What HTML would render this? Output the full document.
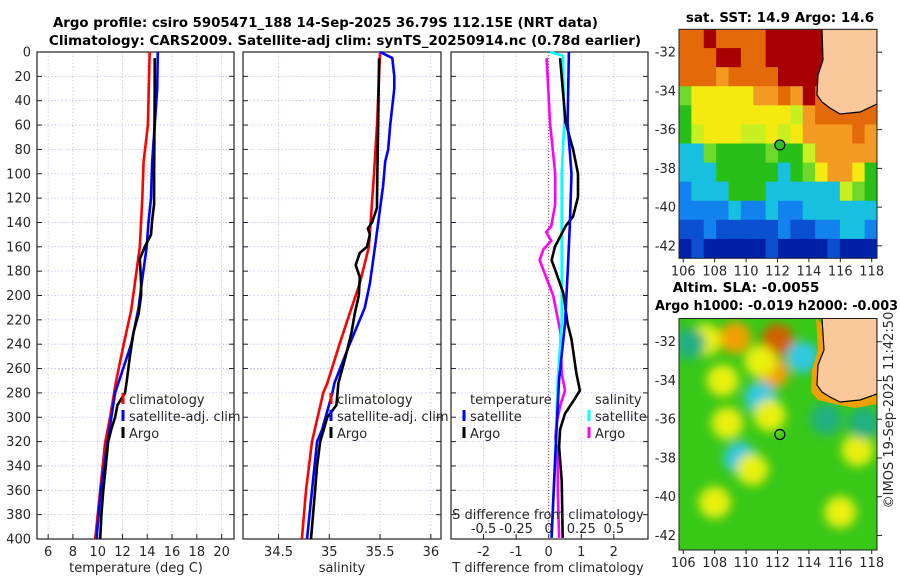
<!DOCTYPE html>
<html><head><meta charset="utf-8"><style>
body{margin:0;background:#fff;}
svg{display:block;font-family:"DejaVu Sans","Liberation Sans",sans-serif;}
.tk{font-size:13px;fill:#262626;}
.tt{font-size:13.5px;font-weight:bold;fill:#000;}
</style></head><body>
<svg id="c" width="900" height="580" viewBox="0 0 900 580">
<defs>
<filter id="bl" x="-20%" y="-20%" width="140%" height="140%"><feGaussianBlur stdDeviation="5"/></filter>
<clipPath id="m1c"><rect x="679" y="29" width="198" height="229"/></clipPath>
<clipPath id="m2c"><rect x="679" y="318" width="198" height="232"/></clipPath>
</defs>
<text class="tt" x="53" y="27" textLength="545" lengthAdjust="spacingAndGlyphs">Argo profile: csiro 5905471_188 14-Sep-2025 36.79S 112.15E (NRT data)</text>
<text class="tt" x="345" y="45" text-anchor="middle">Climatology: CARS2009. Satellite-adj clim: synTS_20250914.nc (0.78d earlier)</text>
<g id="panels"></g>
<g id="maps"></g>
<text class="tk" transform="translate(893,410) rotate(-90)" text-anchor="middle">©IMOS 19-Sep-2025 11:42:50</text>
</svg>
<script>
// ---- data ----
const depthTicks=[0,20,40,60,80,100,120,140,160,180,200,220,240,260,280,300,320,340,360,380,400];
const tempTicks=[6,8,10,12,14,16,18,20];
const salTicks=[34.5,35,35.5,36];
const salTickLabels=["34.5","35","35.5","36"];
const tdiffTicks=[-2,-1,0,1,2];
const sdiffTicks=[-0.5,-0.25,0,0.25,0.5];
const sdiffTickLabels=["-0.5","-0.25","0","0.25","0.5"];

const tClimDepth=[0,60,90,120,160,190,212,240,272,300,321,360,400];
const tClimVal=[14.2,14.05,13.7,13.6,13.4,13.0,12.7,12.1,11.45,11.0,10.6,10.2,9.8];
const tSatDepth=[0,30,90,120,140,160,190,210,240,280,320,360,400];
const tSatVal=[14.85,14.8,14.4,14.3,14.1,13.95,13.55,13.3,12.7,11.4,10.8,10.25,9.9];
const tArgoDepth=[5,30,60,100,125,138,150,160,170,180,190,200,215,230,250,270,280,290,300,310,320,340,360,380,400];
const tArgoVal=[14.6,14.6,14.58,14.55,14.55,14.4,14.3,13.8,13.4,13.45,13.5,13.5,13.3,12.9,12.6,12.35,12.2,11.6,11.4,11.1,10.85,10.65,10.45,10.3,10.2];

const sClimDepth=[0,60,100,160,190,210,240,272,280,320,360,400];
const sClimVal=[35.5,35.47,35.44,35.39,35.3,35.22,35.1,34.98,34.94,34.83,34.77,34.73];
const sSatDepth=[0,5,20,30,60,80,90,110,160,190,210,240,272,280,310,320,360,400];
const sSatVal=[35.5,35.62,35.64,35.64,35.6,35.58,35.55,35.53,35.45,35.4,35.35,35.2,35.05,35.03,34.93,34.88,34.83,34.78];
const sArgoDepth=[5,120,128,140,145,150,160,165,175,185,200,215,230,250,272,290,300,320,340,360,400];
const sArgoVal=[35.49,35.47,35.47,35.42,35.38,35.4,35.37,35.3,35.26,35.3,35.29,35.25,35.22,35.16,35.09,35.07,34.98,34.91,34.88,34.86,34.82];

const dtSatDepth=[0,58,100,141,182,223,269,278,338,399];
const dtSatVal=[0.62,0.58,0.7,0.65,0.58,0.5,0.32,0.3,0.19,0.09];
const dtArgoDepth=[5,58,80,100,119,135,143,160,171,182,198,223,236,264,278,287,297,310,324,352,399];
const dtArgoVal=[0.35,0.52,0.75,0.9,0.9,0.75,0.52,0.19,0.09,0.24,0.45,0.58,0.7,0.85,0.96,0.75,0.5,0.35,0.32,0.4,0.43];
const dsSatDepth=[0,3,58,100,141,182,223,269,300,338,399];
const dsSatVal=[0.01,0.11,0.12,0.1,0.1,0.1,0.1,0.07,0.06,0.05,0.02];
const dsArgoDepth=[5,58,100,125,143,148,155,162,171,182,200,230,264,278,290,305,317,330,360,399];
const dsArgoVal=[-0.016,0.01,0.05,0.05,0.02,-0.02,0.02,-0.04,-0.07,-0.03,0.035,0.09,0.1,0.125,0.09,0.06,0.05,0.07,0.07,0.08];

const sstRows=[
"OOROOOORRRRRLLLL",
"OOORROORRRRRRLLL",
"OOOoOOOORRRROLLL",
"gYYYYYooOoROOLLL",
"GYYYYYYYYyoOOOOO",
"GyYYYyyYyYooooOo",
"CCgGGGGgGGyooooo",
"CCCGGGGGCGgYooYG",
"BCCCGGGCCCCCCygG",
"BBBBCBBCBBCCCCCC",
"bbBbbbbbBbbBBCCB",
"DbDDDDDbDDDDbDDD"];
const slaBlobLon=[109.3,107.4,112.0,111.7,110.9,110.9,109.6,110.4,108.8,117.1,106.4,113.6,115.1,117.5,108.0,116.0,108.5,111.5];
const slaBlobLat=[-31.8,-31.9,-31.9,-33.6,-33.0,-34.9,-38.0,-38.6,-36.2,-37.6,-32.1,-32.8,-36.0,-36.2,-40.3,-40.8,-34.0,-35.8];
const slaBlobKind=["O","Y","R","O","Y","C","C","Y","Y","Y","T","C","T","T","Y","Y","Y","Y"];

// ---- helpers ----
const NS="http://www.w3.org/2000/svg";
function mk(tag,attrs,parent){const e=document.createElementNS(NS,tag);for(const k in attrs)e.setAttribute(k,attrs[k]);parent.appendChild(e);return e;}
const P=document.getElementById('panels');
const yTop=52,yBot=539;
function yD(d){return yTop+(yBot-yTop)*d/400;}

function panel(x0,x1,xmin,xmax,name){
  const xs=v=>x0+(x1-x0)*(v-xmin)/(xmax-xmin);
  const g=mk('g',{},P);
  
  
  return {g,xs};
}
function grid(p,ticks,x0,x1,labels,labelY){
  for(const d of depthTicks){const y=yD(d);
    const l=mk('line',{x1:x0,x2:x1,y1:y,y2:y,stroke:'#b8bff0','stroke-width':0.8,'stroke-dasharray':'1.5,2'},p.g);
    
    const t=mk('line',{x1:x0,x2:x0+5,y1:y,y2:y,stroke:'#222'},p.g);
    
    const t2=mk('line',{x1:x1-5,x2:x1,y1:y,y2:y,stroke:'#222'},p.g);
    
  }
  ticks.forEach((v,i)=>{const x=p.xs(v);
    const l=mk('line',{x1:x,x2:x,y1:yTop,y2:yBot,stroke:'#c8c0e8','stroke-width':0.8,'stroke-dasharray':'1.5,2'},p.g);
    
    const t=mk('line',{x1:x,x2:x,y1:yBot,y2:yBot-5,stroke:'#222'},p.g);
    
    if(labels){const tx=mk('text',{x:x,y:labelY,'text-anchor':'middle',class:'tk'},p.g);tx.textContent=labels[i];
      }
  });
  const b=mk('rect',{x:x0,y:yTop,width:x1-x0,height:yBot-yTop,fill:'none',stroke:'#222','stroke-width':1.2},p.g);
  
}
function series(p,xsF,depths,vals,color,name){
  const pts=depths.map((d,i)=>xsF(vals[i]).toFixed(1)+','+yD(d).toFixed(1)).join(' ');
  const l=mk('polyline',{points:pts,fill:'none',stroke:color,'stroke-width':2.6,'stroke-linejoin':'round'},p.g);
  
}
function legend(g,x,y,color,label,name){
  const r=mk('rect',{x:x-1.5,y:y-11,width:3,height:11,fill:color},g);
  
  const t=mk('text',{x:x+6,y:y,class:'tk'},g);t.textContent=label;
  
}
function text(g,x,y,s,name,anchor){const t=mk('text',{x:x,y:y,class:'tk','text-anchor':anchor||'middle'},g);t.textContent=s;
  return t;}

// y tick labels
const yl=mk('g',{},P);


for(const d of depthTicks){const t=mk('text',{x:31,y:yD(d)+4.5,'text-anchor':'end',class:'tk'},yl);t.textContent=d;
  }

// panel 1 temperature
const p1=panel(37,234,5.1,21.0,'temperature-panel');
grid(p1,tempTicks,37,234,tempTicks.map(String),556);
series(p1,p1.xs,tClimDepth,tClimVal,'#ff0000','temp-climatology-line');
series(p1,p1.xs,tSatDepth,tSatVal,'#0000ff','temp-satellite-line');
series(p1,p1.xs,tArgoDepth,tArgoVal,'#000000','temp-argo-line');
text(p1.g,136,572,'temperature (deg C)','x-axis-title-temperature');
legend(p1.g,123,404,'#ff0000','climatology','legend-climatology');
legend(p1.g,123,421,'#0000ff','satellite-adj. clim','legend-satellite-adj');
legend(p1.g,123,438,'#000000','Argo','legend-argo');

// panel 2 salinity
const p2=panel(243,441,34.15,36.1,'salinity-panel');
grid(p2,salTicks,243,441,salTickLabels,556);
series(p2,p2.xs,sClimDepth,sClimVal,'#ff0000','sal-climatology-line');
series(p2,p2.xs,sSatDepth,sSatVal,'#0000ff','sal-satellite-line');
series(p2,p2.xs,sArgoDepth,sArgoVal,'#000000','sal-argo-line');
text(p2.g,342,572,'salinity','x-axis-title-salinity');
legend(p2.g,331,404,'#ff0000','climatology','legend-climatology-2');
legend(p2.g,331,421,'#0000ff','satellite-adj. clim','legend-satellite-adj-2');
legend(p2.g,331,438,'#000000','Argo','legend-argo-2');

// panel 3 differences
const p3=panel(451,648,-3.0,3.05,'difference-panel');
grid(p3,tdiffTicks,451,648,tdiffTicks.map(String),556);
const zl=mk('line',{x1:p3.xs(0),x2:p3.xs(0),y1:yTop,y2:yBot,stroke:'#806040','stroke-width':1,'stroke-dasharray':'1,2'},p3.g);

const sx=v=>p3.xs(v*4);
series(p3,sx,dsArgoDepth,dsArgoVal,'#ff00ff','sdiff-argo-line');
series(p3,sx,dsSatDepth,dsSatVal,'#00ffff','sdiff-satellite-line');
series(p3,p3.xs,dtArgoDepth,dtArgoVal,'#000000','tdiff-argo-line');
series(p3,p3.xs,dtSatDepth,dtSatVal,'#0000ff','tdiff-satellite-line');
sdiffTicks.forEach((v,i)=>{text(p3.g,sx(v),533,sdiffTickLabels[i],'s-diff-tick-label');});
text(p3.g,548,519,'S difference from climatology','s-diff-axis-title');
text(p3.g,548,572,'T difference from climatology','t-diff-axis-title');
text(p3.g,470,404,'temperature','legend-title-temperature','start');
legend(p3.g,464,421,'#0000ff','satellite','legend-t-satellite');
legend(p3.g,464,438,'#000000','Argo','legend-t-argo');
text(p3.g,595,404,'salinity','legend-title-salinity','start');
legend(p3.g,589,421,'#00ffff','satellite','legend-s-satellite');
legend(p3.g,589,438,'#ff00ff','Argo','legend-s-argo');

// ---- maps ----
const M=document.getElementById('maps');
const lonX=lon=>683.3+(lon-106)*15.7;
const cmap={R:'#a80000',O:'#e46a08',o:'#f29a22',Y:'#f4ea10',y:'#c8f020',G:'#28c018',g:'#70d828',C:'#18c0e0',B:'#1282ee',b:'#0a50d0',D:'#0020a8',L:'#f9c99c'};
function mapFrame(g,y0,h,latTop,name){
  const latY=lat=>y0+(latTop-lat)*19.37;
  [-32,-34,-36,-38,-40,-42].forEach(lat=>{const y=latY(lat);
    const t=mk('text',{x:676,y:y+4.5,'text-anchor':'end',class:'tk'},g);t.textContent=lat;
    
    const k=mk('line',{x1:877,x2:882,y1:y,y2:y,stroke:'#222'},g);
    });
  [106,108,110,112,114,116,118].forEach(lon=>{
    const t=mk('text',{x:lonX(lon),y:y0+h+17,'text-anchor':'middle',class:'tk'},g);t.textContent=lon;
    
    const k=mk('line',{x1:lonX(lon),x2:lonX(lon),y1:y0+h,y2:y0+h+4,stroke:'#222'},g);
    });
  const b=mk('rect',{x:679,y:y0,width:198,height:h,fill:'none',stroke:'#222','stroke-width':1},g);
  
  return latY;
}
// SST map
const g1=mk('g',{'clip-path':'url(#m1c)'},M);


const cw=198/16,ch=229/12;
sstRows.forEach((row,r)=>{[...row].forEach((c,i)=>{
  const cell=mk('rect',{x:679+i*cw,y:29+r*ch,width:cw+0.6,height:ch+0.6,fill:cmap[c]},g1);
  });});
const coast1=mk('path',{d:'M822,29 L823,60 L818,75 L817,95 L822,102 L830,108 L840,114 L860,112 L877,104 L877,29 Z',fill:'#f9c99c',stroke:'#000','stroke-width':1.2},g1);

const f1=mk('g',{},M);


const latY1=mapFrame(f1,29.3,229,-30.82,'sst-map');
const c1=mk('circle',{cx:lonX(112.15),cy:latY1(-36.79),r:5,fill:'#30c020',stroke:'#000','stroke-width':1.2},M);

const st=mk('text',{x:780,y:22,'text-anchor':'middle',class:'tt'},M);st.textContent='sat. SST: 14.9 Argo: 14.6';


// SLA map
const g2=mk('g',{'clip-path':'url(#m2c)'},M);


const bg=mk('rect',{x:679,y:318,width:198,height:232,fill:'#38c818'},g2);

const latY2=lat=>318.5+(-30.8-lat)*19.37;
const bk={O:'#f0a000',Y:'#e8f010',R:'#d06000',C:'#30c8e0',T:'#20b080'};
const bl=mk('g',{filter:'url(#bl)'},g2);


slaBlobLon.forEach((lon,i)=>{const e=mk('ellipse',{cx:lonX(lon),cy:latY2(slaBlobLat[i]),rx:16,ry:16,fill:bk[slaBlobKind[i]]},bl);
  });
const band=mk('path',{d:'M816,318 L818,350 L812,370 L811,392 L818,400 L835,404 L855,408 L877,404 L877,380 Z',fill:'#f0a000'},g2);

const coast2=mk('path',{d:'M822,318 L824,350 L818,365 L817,385 L822,392 L830,397 L840,402 L860,400 L877,394 L877,318 Z',fill:'#f9c99c',stroke:'#000','stroke-width':1.2},g2);

const f2=mk('g',{},M);


mapFrame(f2,318.5,231.5,-30.8,'sla-map');
const c2=mk('circle',{cx:lonX(112.15),cy:latY2(-36.79),r:5,fill:'none',stroke:'#000','stroke-width':1.2},M);

const s1=mk('text',{x:746,y:292,'text-anchor':'middle',class:'tt'},M);s1.textContent='Altim. SLA: -0.0055';

const s2=mk('text',{x:655,y:310,class:'tt',textLength:243,lengthAdjust:'spacingAndGlyphs'},M);s2.textContent='Argo h1000: -0.019 h2000: -0.003';

</script>
</body></html>
